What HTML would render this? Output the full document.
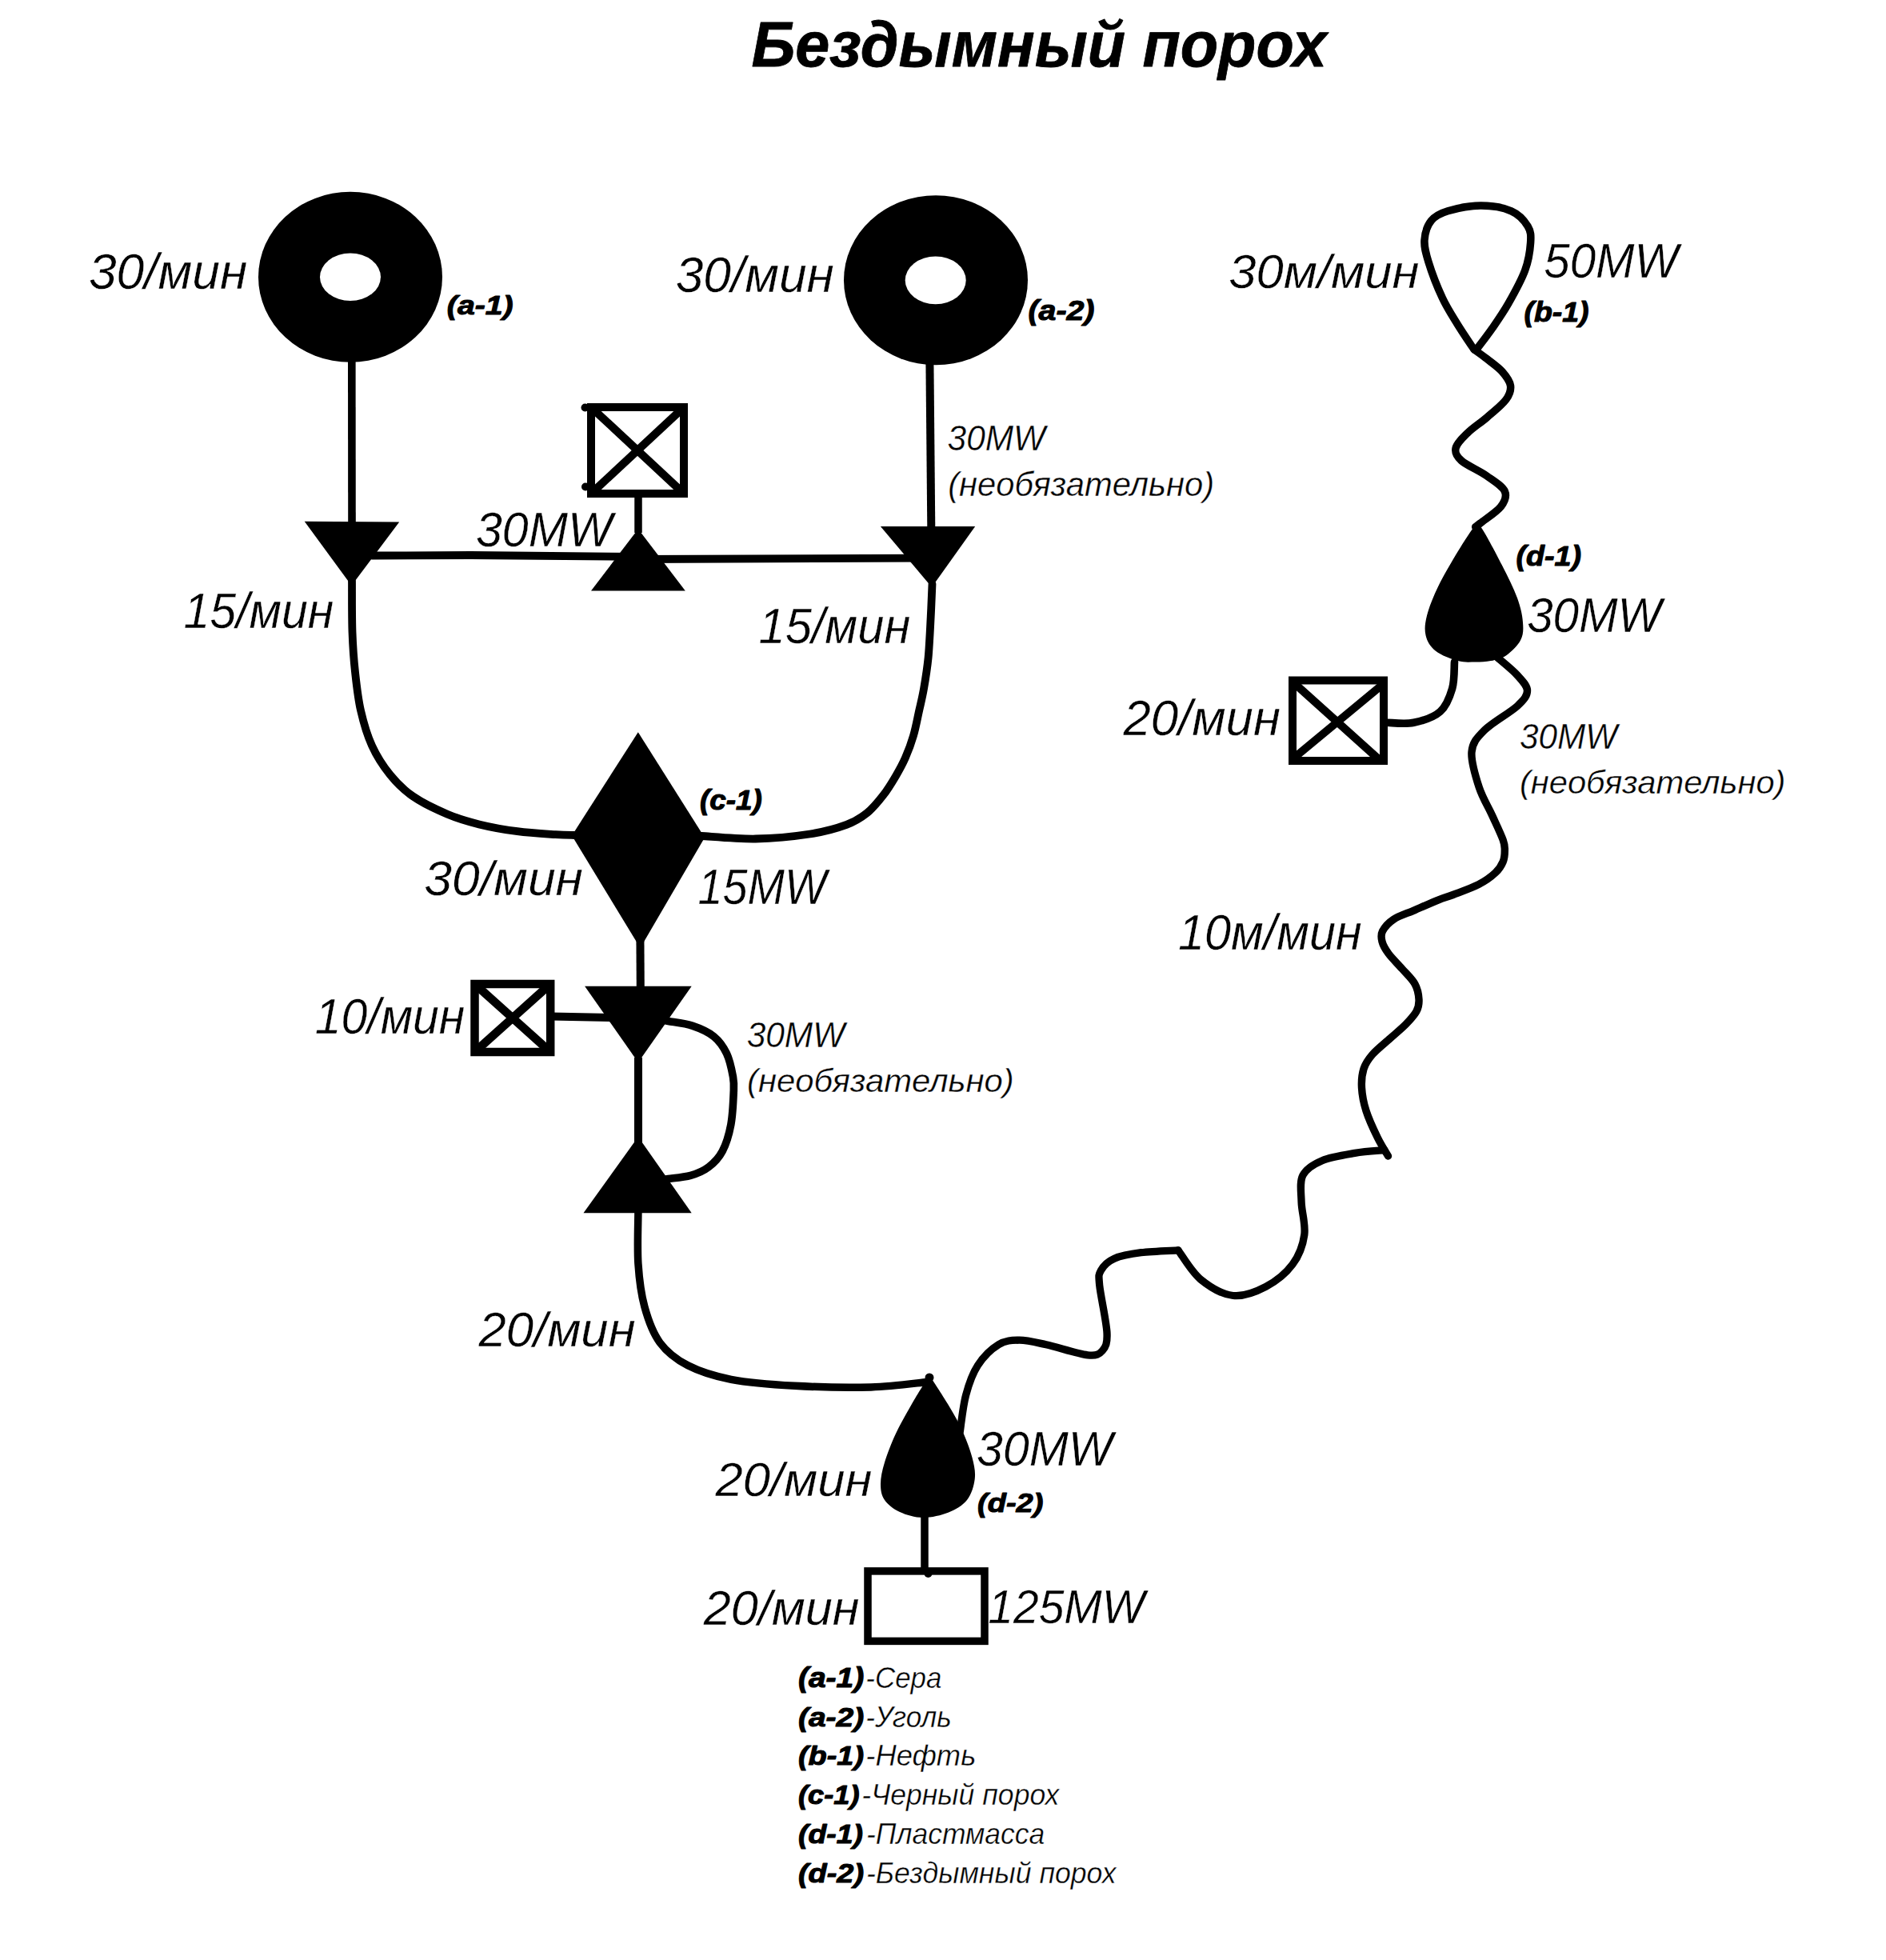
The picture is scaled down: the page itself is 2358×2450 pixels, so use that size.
<!DOCTYPE html>
<html><head><meta charset="utf-8"><style>
html,body{margin:0;padding:0;background:#fff;width:2358px;height:2450px;overflow:hidden}
svg{display:block}
text{font-family:"Liberation Sans",sans-serif;font-style:italic;font-size:100px;fill:#000}
</style></head><body>
<svg width="2358" height="2450" viewBox="0 0 2358 2450">
<rect width="2358" height="2450" fill="#fff"/>
<ellipse cx="438" cy="346.3" rx="115" ry="106.5" fill="#000"/>
<ellipse cx="438" cy="346.3" rx="38" ry="29.8" fill="#fff"/>
<ellipse cx="1170" cy="350.2" rx="115" ry="106" fill="#000"/>
<ellipse cx="1169.7" cy="350.4" rx="38" ry="29.8" fill="#fff"/>
<line x1="439.8" y1="450" x2="440" y2="655" stroke="#000" stroke-width="9.6" stroke-linecap="butt"/>
<line x1="1162.4" y1="452" x2="1164.3" y2="660" stroke="#000" stroke-width="10" stroke-linecap="butt"/>
<polygon points="380.7,651.8 499.2,652.6 439.5,732.0" fill="#000"/>
<polygon points="1100.9,658.0 1219.2,658.0 1165.0,734.0" fill="#000"/>
<path d="M465,694.5 L589,694 L798,696" fill="none" stroke="#000" stroke-width="9.8" stroke-linecap="round" stroke-linejoin="round"/>
<path d="M798,699 L1150,697.6" fill="none" stroke="#000" stroke-width="9.8" stroke-linecap="round" stroke-linejoin="round"/>
<rect x="739" y="509" width="116" height="108" fill="none" stroke="#000" stroke-width="10"/>
<line x1="739" y1="509" x2="855" y2="617" stroke="#000" stroke-width="10"/>
<line x1="855" y1="509" x2="739" y2="617" stroke="#000" stroke-width="10"/>
<line x1="798" y1="620" x2="798" y2="666" stroke="#000" stroke-width="9.5" stroke-linecap="butt"/>
<polygon points="797.9,661.3 739.0,738.5 856.8,738.5" fill="#000"/>
<path d="M440.0,726.0 C440.1,736.7 439.8,771.0 440.5,790.0 C441.2,809.0 442.2,823.7 444.0,840.0 C445.8,856.3 447.5,872.7 451.0,888.0 C454.5,903.3 458.9,918.6 465.0,932.0 C471.1,945.4 479.1,957.8 487.7,968.4 C496.2,979.0 504.4,987.2 516.3,995.4 C528.2,1003.6 545.5,1011.9 559.3,1017.7 C573.1,1023.5 584.4,1026.8 599.0,1030.4 C613.6,1034.0 630.9,1037.1 646.8,1039.2 C662.7,1041.3 682.6,1042.4 694.5,1043.2 C706.4,1044.0 714.1,1043.9 718.0,1044.0" fill="none" stroke="#000" stroke-width="9.8" stroke-linecap="round" stroke-linejoin="round"/>
<path d="M1165.5,730.0 C1165.2,736.8 1164.5,755.7 1163.7,771.0 C1162.9,786.3 1162.0,807.0 1160.6,822.0 C1159.1,837.0 1156.9,850.1 1155.0,861.0 C1153.1,871.9 1151.5,877.8 1149.3,887.6 C1147.1,897.4 1144.9,909.8 1142.0,919.7 C1139.1,929.7 1135.6,938.9 1131.9,947.3 C1128.2,955.7 1124.5,962.4 1119.9,970.2 C1115.3,978.0 1110.3,986.4 1104.3,994.1 C1098.3,1001.8 1091.8,1010.1 1084.1,1016.2 C1076.4,1022.3 1070.3,1026.5 1058.4,1030.9 C1046.5,1035.3 1031.6,1039.6 1012.7,1042.5 C993.8,1045.4 967.4,1048.1 944.8,1048.5 C922.2,1048.9 888.3,1045.6 877.0,1045.0" fill="none" stroke="#000" stroke-width="9.8" stroke-linecap="round" stroke-linejoin="round"/>
<polygon points="797.8,915.2 715.0,1044.4 800.5,1185.0 881.0,1047.0" fill="#000"/>
<line x1="800.4" y1="1170" x2="800.8" y2="1236" stroke="#000" stroke-width="10" stroke-linecap="butt"/>
<polygon points="731.1,1232.7 864.7,1232.7 797.9,1328.0" fill="#000"/>
<rect x="593.5" y="1230" width="94.70000000000005" height="85" fill="none" stroke="#000" stroke-width="10.5"/>
<line x1="593.5" y1="1230" x2="688.2" y2="1315" stroke="#000" stroke-width="10.5"/>
<line x1="688.2" y1="1230" x2="593.5" y2="1315" stroke="#000" stroke-width="10.5"/>
<line x1="688" y1="1270.5" x2="765" y2="1272" stroke="#000" stroke-width="10" stroke-linecap="butt"/>
<line x1="798" y1="1322" x2="798" y2="1428" stroke="#000" stroke-width="10" stroke-linecap="butt"/>
<polygon points="797.9,1421.0 729.5,1516.2 864.7,1516.2" fill="#000"/>
<path d="M828.0,1275.5 C829.3,1275.7 829.2,1275.3 835.6,1276.5 C842.0,1277.7 856.6,1279.2 866.1,1282.4 C875.6,1285.6 885.5,1290.0 892.6,1295.7 C899.7,1301.5 904.5,1308.5 908.5,1316.9 C912.5,1325.3 915.0,1337.9 916.5,1346.1 C918.0,1354.3 917.7,1356.0 917.2,1366.0 C916.8,1376.0 916.1,1393.6 913.8,1405.8 C911.5,1418.0 907.8,1430.2 903.2,1439.0 C898.6,1447.8 892.6,1453.7 886.0,1458.8 C879.4,1463.9 871.8,1467.0 863.4,1469.4 C855.0,1471.8 841.5,1472.6 835.6,1473.4 C829.7,1474.2 829.3,1473.9 828.0,1474.0" fill="none" stroke="#000" stroke-width="9.6" stroke-linecap="round" stroke-linejoin="round"/>
<path d="M797.9,1515.9 C797.9,1526.5 796.6,1559.9 797.9,1579.5 C799.2,1599.1 801.4,1617.1 805.9,1633.6 C810.4,1650.0 816.0,1666.0 825.0,1678.2 C834.0,1690.4 845.1,1699.1 860.0,1706.8 C874.9,1714.5 891.8,1720.0 914.1,1724.3 C936.4,1728.5 964.5,1730.7 993.6,1732.3 C1022.8,1733.9 1061.4,1734.7 1089.0,1733.9 C1116.6,1733.1 1147.3,1728.6 1159.0,1727.5" fill="none" stroke="#000" stroke-width="9.5" stroke-linecap="round" stroke-linejoin="round"/>
<path d="M1162.0,1719.0 C1158.3,1725.0 1147.0,1742.8 1140.0,1755.0 C1133.0,1767.2 1125.7,1779.8 1120.0,1792.0 C1114.3,1804.2 1109.2,1817.5 1106.0,1828.0 C1102.8,1838.5 1101.0,1847.2 1101.0,1855.0 C1101.0,1862.8 1102.0,1869.2 1106.0,1875.0 C1110.0,1880.8 1117.0,1886.3 1125.0,1890.0 C1133.0,1893.7 1143.8,1896.9 1154.0,1897.0 C1164.2,1897.1 1176.8,1894.2 1186.0,1890.5 C1195.2,1886.8 1203.5,1881.9 1209.0,1875.0 C1214.5,1868.1 1217.6,1857.8 1218.7,1849.0 C1219.8,1840.2 1218.2,1832.3 1215.5,1822.0 C1212.8,1811.7 1207.6,1798.2 1202.5,1787.0 C1197.4,1775.8 1191.8,1766.3 1185.0,1755.0 C1178.2,1743.7 1165.8,1725.0 1162.0,1719.0Z" fill="#000"/>
<line x1="1156" y1="1890" x2="1156" y2="1966" stroke="#000" stroke-width="9.5" stroke-linecap="butt"/>
<rect x="1085" y="1963.9" width="146" height="87.5" fill="none" stroke="#000" stroke-width="9.5"/>
<path d="M1200.2,1790.0 C1201.4,1782.3 1203.9,1757.9 1207.6,1744.0 C1211.3,1730.1 1215.7,1717.3 1222.5,1706.8 C1229.3,1696.3 1239.8,1686.1 1248.5,1680.8 C1257.2,1675.5 1264.6,1675.2 1274.5,1675.2 C1284.4,1675.2 1293.7,1677.7 1307.9,1680.8 C1322.1,1683.9 1348.0,1692.6 1359.8,1693.8 C1371.5,1695.0 1374.4,1692.8 1378.4,1688.2 C1382.4,1683.6 1384.6,1679.6 1384.0,1666.0 C1383.4,1652.4 1376.0,1619.6 1374.7,1606.6 C1373.5,1593.6 1373.4,1593.6 1376.5,1588.0 C1379.6,1582.4 1384.8,1576.9 1393.2,1573.2 C1401.6,1569.5 1413.4,1567.4 1426.7,1565.7 C1440.0,1564.0 1465.3,1563.3 1473.0,1562.8" fill="none" stroke="#000" stroke-width="9.3" stroke-linecap="round" stroke-linejoin="round"/>
<path d="M1473.0,1562.8 C1477.7,1568.8 1489.5,1589.6 1500.9,1599.1 C1512.4,1608.5 1528.1,1618.0 1541.7,1619.5 C1555.3,1621.0 1570.2,1614.9 1582.6,1608.4 C1595.0,1601.9 1608.0,1591.4 1616.0,1580.6 C1624.0,1569.8 1629.0,1556.5 1630.8,1543.5 C1632.6,1530.5 1627.4,1515.0 1627.1,1502.6 C1626.8,1490.2 1624.6,1477.8 1628.9,1469.2 C1633.2,1460.6 1642.3,1455.3 1653.1,1450.7 C1663.9,1446.1 1680.9,1443.6 1693.9,1441.4 C1706.9,1439.2 1724.8,1438.3 1731.0,1437.7" fill="none" stroke="#000" stroke-width="9.3" stroke-linecap="round" stroke-linejoin="round"/>
<path d="M1735.5,1445.0 C1733.3,1441.2 1726.9,1431.4 1722.3,1422.0 C1717.7,1412.6 1711.3,1398.9 1708.0,1388.5 C1704.7,1378.1 1703.0,1368.5 1702.5,1359.7 C1702.0,1351.0 1702.8,1343.0 1705.0,1336.0 C1707.2,1329.0 1710.5,1324.3 1716.0,1318.0 C1721.5,1311.7 1731.0,1304.3 1738.0,1298.0 C1745.0,1291.7 1752.5,1285.7 1758.0,1280.0 C1763.5,1274.3 1768.3,1269.1 1771.0,1264.0 C1773.7,1258.9 1774.3,1255.0 1774.0,1249.3 C1773.7,1243.6 1772.5,1236.4 1769.0,1230.0 C1765.5,1223.6 1758.5,1217.3 1753.0,1211.0 C1747.5,1204.7 1740.2,1197.7 1736.0,1192.0 C1731.8,1186.3 1729.2,1181.7 1728.0,1177.0 C1726.8,1172.3 1726.1,1168.6 1728.5,1164.0 C1730.9,1159.4 1735.7,1153.6 1742.4,1149.2 C1749.1,1144.8 1759.5,1141.7 1768.9,1137.6 C1778.3,1133.5 1790.6,1128.0 1798.6,1124.8 C1806.5,1121.6 1808.3,1121.7 1816.6,1118.5 C1824.9,1115.3 1839.7,1110.3 1848.5,1105.7 C1857.3,1101.1 1864.6,1095.7 1869.7,1090.9 C1874.8,1086.1 1877.3,1081.7 1879.2,1077.1 C1881.1,1072.5 1881.3,1067.8 1881.3,1063.3 C1881.3,1058.8 1881.8,1057.3 1879.2,1050.0 C1876.6,1042.7 1870.7,1030.5 1865.7,1019.5 C1860.7,1008.5 1853.6,997.5 1849.3,984.3 C1845.0,971.0 1838.9,951.9 1840.0,940.0 C1841.1,928.1 1846.2,922.6 1855.7,913.0 C1865.2,903.4 1888.0,890.9 1897.0,882.6 C1906.0,874.3 1909.5,869.7 1909.5,863.3 C1909.5,856.9 1903.2,850.9 1897.0,844.0 C1890.8,837.1 1876.4,825.7 1872.3,822.0" fill="none" stroke="#000" stroke-width="9.4" stroke-linecap="round" stroke-linejoin="round"/>
<path d="M1844.7,655.5 C1841.0,661.2 1830.4,676.6 1822.6,689.6 C1814.8,702.6 1804.2,720.4 1797.8,733.7 C1791.4,747.0 1786.5,759.5 1784.0,769.6 C1781.5,779.7 1780.8,787.0 1782.6,794.4 C1784.4,801.8 1788.3,808.4 1795.0,813.7 C1801.7,819.0 1814.3,823.8 1822.6,826.1 C1830.9,828.4 1837.8,827.5 1844.7,827.5 C1851.6,827.5 1857.6,827.5 1864.0,826.1 C1870.4,824.7 1877.1,823.6 1883.3,819.2 C1889.5,814.9 1897.8,806.9 1901.2,800.0 C1904.7,793.1 1904.7,786.6 1904.0,777.9 C1903.3,769.1 1901.4,759.5 1897.0,747.5 C1892.6,735.5 1885.1,720.6 1877.8,706.2 C1870.5,691.8 1858.5,669.5 1853.0,661.0 C1847.5,652.5 1846.1,656.4 1844.7,655.5Z" fill="#000"/>
<rect x="1616" y="850.5" width="114" height="100.5" fill="none" stroke="#000" stroke-width="10"/>
<line x1="1617" y1="853" x2="1726" y2="951" stroke="#000" stroke-width="10" stroke-linecap="butt"/>
<line x1="1727" y1="857" x2="1617" y2="948" stroke="#000" stroke-width="10" stroke-linecap="butt"/>
<path d="M1734.0,903.3 C1739.6,903.3 1756.4,905.6 1767.5,903.3 C1778.6,901.0 1792.6,896.6 1800.6,889.5 C1808.6,882.4 1812.7,870.9 1815.7,860.6 C1818.7,850.3 1818.0,833.0 1818.5,827.5" fill="none" stroke="#000" stroke-width="9.6" stroke-linecap="round" stroke-linejoin="round"/>
<path d="M1844.0,437.5 C1846.5,439.4 1853.3,444.1 1859.0,448.6 C1864.7,453.1 1873.2,458.9 1878.1,464.5 C1883.0,470.1 1887.7,476.2 1888.5,482.0 C1889.3,487.8 1887.8,492.9 1882.9,499.5 C1878.0,506.1 1867.0,514.9 1859.0,521.8 C1851.0,528.7 1841.7,534.5 1835.2,540.9 C1828.7,547.3 1821.4,554.2 1820.1,560.0 C1818.8,565.8 1820.7,570.1 1827.2,575.9 C1833.7,581.7 1850.0,588.6 1859.0,595.0 C1868.0,601.4 1878.4,607.6 1881.3,614.0 C1884.2,620.4 1881.6,626.5 1876.6,633.1 C1871.6,639.7 1856.4,649.5 1851.1,653.8 C1845.8,658.0 1845.8,657.8 1844.7,658.6" fill="none" stroke="#000" stroke-width="9.5" stroke-linecap="round" stroke-linejoin="round"/>
<path d="M1843.0,437.0 C1839.5,431.7 1828.6,415.8 1822.0,405.0 C1815.4,394.2 1809.3,385.2 1803.3,372.3 C1797.3,359.4 1789.7,339.6 1786.0,327.5 C1782.3,315.4 1780.4,308.6 1781.0,300.0 C1781.6,291.4 1784.6,281.8 1789.5,275.8 C1794.4,269.8 1799.9,266.9 1810.2,263.8 C1820.5,260.7 1838.3,257.0 1851.5,257.0 C1864.7,257.0 1879.7,259.5 1889.5,263.8 C1899.3,268.1 1906.1,276.1 1910.1,282.7 C1914.1,289.3 1914.2,294.2 1913.6,303.4 C1913.0,312.6 1911.3,325.3 1906.7,337.9 C1902.1,350.5 1892.8,367.2 1886.0,379.2 C1879.2,391.2 1872.7,400.4 1866.0,410.0 C1859.3,419.6 1849.3,432.5 1846.0,437.0" fill="none" stroke="#000" stroke-width="9.5" stroke-linecap="round" stroke-linejoin="round"/>
<circle cx="1162" cy="1722" r="5.5" fill="#000"/>
<circle cx="731.5" cy="509.5" r="5" fill="#000"/>
<circle cx="732" cy="608.5" r="5" fill="#000"/>
<circle cx="1160.5" cy="1967" r="5" fill="#000"/>
<text transform="matrix(0.7742 0 0 0.7986 862.03 -77.01)" x="100" y="200" font-weight="bold" stroke="#000" stroke-width="1.02" stroke-linejoin="round">Бездымный порох</text>
<text transform="matrix(0.6233 0 0 0.6214 48.60 237.01)" x="100" y="200" font-weight="normal" stroke="#fff" stroke-width="0.64" stroke-linejoin="round">30/мин</text>
<text transform="matrix(0.3922 0 0 0.3383 519.62 325.64)" x="100" y="200" font-weight="bold" stroke="#000" stroke-width="3.01" stroke-linejoin="round">(a-1)</text>
<text transform="matrix(0.6227 0 0 0.6343 782.46 238.14)" x="100" y="200" font-weight="normal" stroke="#fff" stroke-width="0.64" stroke-linejoin="round">30/мин</text>
<text transform="matrix(0.3936 0 0 0.3415 1246.06 331.33)" x="100" y="200" font-weight="bold" stroke="#000" stroke-width="2.99" stroke-linejoin="round">(a-2)</text>
<text transform="matrix(0.5915 0 0 0.6129 535.78 560.23)" x="100" y="200" font-weight="normal" stroke="#fff" stroke-width="0.66" stroke-linejoin="round">30MW</text>
<text transform="matrix(0.5901 0 0 0.6232 170.52 660.76)" x="100" y="200" font-weight="normal" stroke="#fff" stroke-width="0.66" stroke-linejoin="round">15/мин</text>
<text transform="matrix(0.5962 0 0 0.6246 888.89 679.47)" x="100" y="200" font-weight="normal" stroke="#fff" stroke-width="0.66" stroke-linejoin="round">15/мин</text>
<text transform="matrix(0.4242 0 0 0.4429 1142.20 474.23)" x="100" y="200" font-weight="normal" stroke="#fff" stroke-width="0.92" stroke-linejoin="round">30MW</text>
<text transform="matrix(0.4173 0 0 0.4181 1143.49 536.50)" x="100" y="200" font-weight="normal" stroke="#fff" stroke-width="0.96" stroke-linejoin="round">(необязательно)</text>
<text transform="matrix(0.3686 0 0 0.3415 838.06 944.13)" x="100" y="200" font-weight="bold" stroke="#000" stroke-width="3.10" stroke-linejoin="round">(c-1)</text>
<text transform="matrix(0.6243 0 0 0.6043 467.90 997.84)" x="100" y="200" font-weight="normal" stroke="#fff" stroke-width="0.65" stroke-linejoin="round">30/мин</text>
<text transform="matrix(0.5573 0 0 0.6348 816.89 1003.44)" x="100" y="200" font-weight="normal" stroke="#fff" stroke-width="0.67" stroke-linejoin="round">15MW</text>
<text transform="matrix(0.5895 0 0 0.6271 334.79 1166.47)" x="100" y="200" font-weight="normal" stroke="#fff" stroke-width="0.66" stroke-linejoin="round">10/мин</text>
<text transform="matrix(0.4246 0 0 0.4443 891.17 1219.94)" x="100" y="200" font-weight="normal" stroke="#fff" stroke-width="0.92" stroke-linejoin="round">30MW</text>
<text transform="matrix(0.4184 0 0 0.4021 892.27 1284.83)" x="100" y="200" font-weight="normal" stroke="#fff" stroke-width="0.97" stroke-linejoin="round">(необязательно)</text>
<text transform="matrix(0.6161 0 0 0.6143 536.89 1560.14)" x="100" y="200" font-weight="normal" stroke="#fff" stroke-width="0.65" stroke-linejoin="round">20/мин</text>
<text transform="matrix(0.6162 0 0 0.5900 1474.53 242.40)" x="100" y="200" font-weight="normal" stroke="#fff" stroke-width="0.66" stroke-linejoin="round">30м/мин</text>
<text transform="matrix(0.5823 0 0 0.6043 1872.10 226.24)" x="100" y="200" font-weight="normal" stroke="#fff" stroke-width="0.67" stroke-linejoin="round">50MW</text>
<text transform="matrix(0.3743 0 0 0.3489 1868.07 332.69)" x="100" y="200" font-weight="bold" stroke="#000" stroke-width="3.04" stroke-linejoin="round">(b-1)</text>
<text transform="matrix(0.3762 0 0 0.3511 1857.88 636.41)" x="100" y="200" font-weight="bold" stroke="#000" stroke-width="3.03" stroke-linejoin="round">(d-1)</text>
<text transform="matrix(0.5833 0 0 0.6114 1850.82 668.01)" x="100" y="200" font-weight="normal" stroke="#fff" stroke-width="0.67" stroke-linejoin="round">30MW</text>
<text transform="matrix(0.6174 0 0 0.6214 1342.66 795.21)" x="100" y="200" font-weight="normal" stroke="#fff" stroke-width="0.65" stroke-linejoin="round">20/мин</text>
<text transform="matrix(0.4232 0 0 0.4486 1857.61 846.19)" x="100" y="200" font-weight="normal" stroke="#fff" stroke-width="0.92" stroke-linejoin="round">30MW</text>
<text transform="matrix(0.4170 0 0 0.4074 1858.21 910.65)" x="100" y="200" font-weight="normal" stroke="#fff" stroke-width="0.97" stroke-linejoin="round">(необязательно)</text>
<text transform="matrix(0.5937 0 0 0.6357 1413.65 1059.86)" x="100" y="200" font-weight="normal" stroke="#fff" stroke-width="0.65" stroke-linejoin="round">10м/мин</text>
<text transform="matrix(0.5898 0 0 0.6057 1162.15 1710.46)" x="100" y="200" font-weight="normal" stroke="#fff" stroke-width="0.67" stroke-linejoin="round">30MW</text>
<text transform="matrix(0.3805 0 0 0.3383 1183.93 1822.64)" x="100" y="200" font-weight="bold" stroke="#000" stroke-width="3.06" stroke-linejoin="round">(d-2)</text>
<text transform="matrix(0.6158 0 0 0.5914 832.82 1751.71)" x="100" y="200" font-weight="normal" stroke="#fff" stroke-width="0.66" stroke-linejoin="round">20/мин</text>
<text transform="matrix(0.6123 0 0 0.6043 818.47 1909.84)" x="100" y="200" font-weight="normal" stroke="#fff" stroke-width="0.66" stroke-linejoin="round">20/мин</text>
<text transform="matrix(0.5699 0 0 0.6000 1178.30 1909.10)" x="100" y="200" font-weight="normal" stroke="#fff" stroke-width="0.68" stroke-linejoin="round">125MW</text>
<text transform="matrix(0.3902 0 0 0.3415 958.92 2040.53)" x="100" y="200" font-weight="bold" stroke="#000" stroke-width="3.01" stroke-linejoin="round">(a-1)</text>
<text transform="matrix(0.3489 0 0 0.3710 1047.47 2035.90)" x="100" y="200" font-weight="normal" stroke="#fff" stroke-width="1.11" stroke-linejoin="round">-Сера</text>
<text transform="matrix(0.3902 0 0 0.3404 958.92 2089.77)" x="100" y="200" font-weight="bold" stroke="#000" stroke-width="3.01" stroke-linejoin="round">(a-2)</text>
<text transform="matrix(0.3512 0 0 0.3696 1047.23 2085.19)" x="100" y="200" font-weight="normal" stroke="#fff" stroke-width="1.11" stroke-linejoin="round">-Уголь</text>
<text transform="matrix(0.3790 0 0 0.3404 960.08 2137.77)" x="100" y="200" font-weight="bold" stroke="#000" stroke-width="3.06" stroke-linejoin="round">(b-1)</text>
<text transform="matrix(0.3639 0 0 0.3696 1045.89 2133.19)" x="100" y="200" font-weight="normal" stroke="#fff" stroke-width="1.09" stroke-linejoin="round">-Нефть</text>
<text transform="matrix(0.3627 0 0 0.3394 961.77 2186.90)" x="100" y="200" font-weight="bold" stroke="#000" stroke-width="3.13" stroke-linejoin="round">(c-1)</text>
<text transform="matrix(0.3562 0 0 0.3681 1041.70 2182.38)" x="100" y="200" font-weight="normal" stroke="#fff" stroke-width="1.10" stroke-linejoin="round">-Черный порох</text>
<text transform="matrix(0.3738 0 0 0.3394 960.62 2235.90)" x="100" y="200" font-weight="bold" stroke="#000" stroke-width="3.08" stroke-linejoin="round">(d-1)</text>
<text transform="matrix(0.3549 0 0 0.3681 1047.43 2231.38)" x="100" y="200" font-weight="normal" stroke="#fff" stroke-width="1.11" stroke-linejoin="round">-Пластмасса</text>
<text transform="matrix(0.3790 0 0 0.3394 960.08 2284.90)" x="100" y="200" font-weight="bold" stroke="#000" stroke-width="3.06" stroke-linejoin="round">(d-2)</text>
<text transform="matrix(0.3563 0 0 0.3681 1047.28 2280.38)" x="100" y="200" font-weight="normal" stroke="#fff" stroke-width="1.10" stroke-linejoin="round">-Бездымный порох</text>

</svg>
</body></html>
